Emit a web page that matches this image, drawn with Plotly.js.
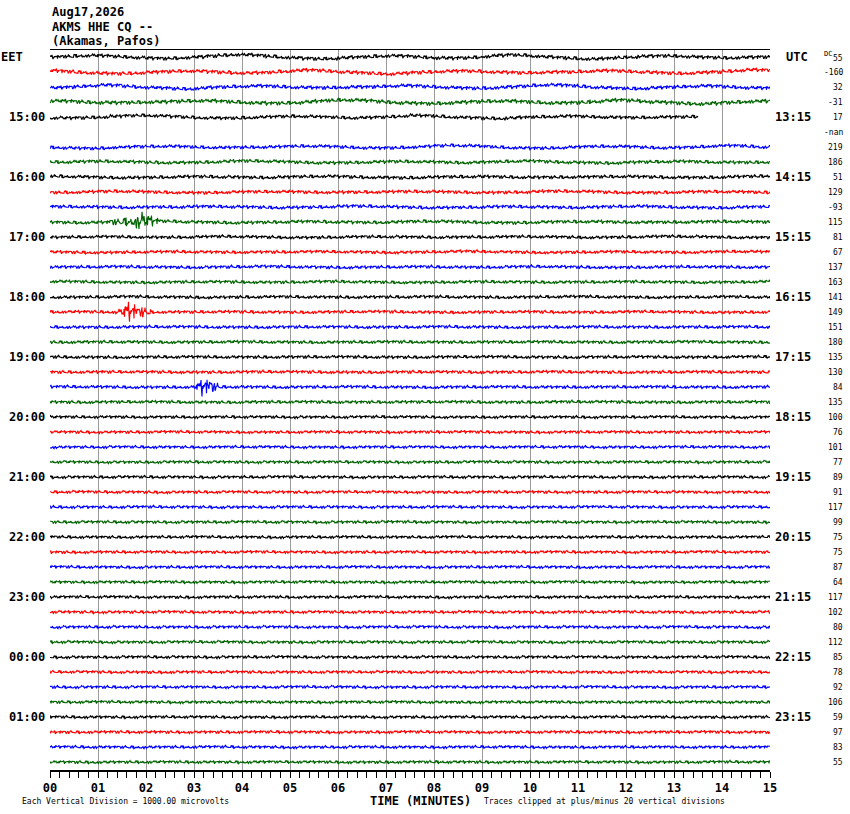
<!DOCTYPE html>
<html><head><meta charset="utf-8">
<script src="https://cdn.plot.ly/plotly-3.0.1.min.js"></script>
<style>body{margin:0;background:#fff}#chart{width:850px;height:814px}</style>
</head><body><div id="chart"></div>
<script>
// ---- data ----
const TITLE_LINES = ["Aug17,2026", "AKMS HHE CQ --", "(Akamas, Pafos)"];
const LEFT_HOURS = ["15:00","16:00","17:00","18:00","19:00","20:00","21:00","22:00","23:00","00:00","01:00"];
const RIGHT_HOURS = ["13:15","14:15","15:15","16:15","17:15","18:15","19:15","20:15","21:15","22:15","23:15"];
const HOUR_ROWS = [4,8,12,16,20,24,28,32,36,40,44];
const DC_VALUES = ["55","-160","32","-31","17","-nan","219","186","51","129","-93","115",
  "81","67","137","163","141","149","151","180","135","130","84","135",
  "100","76","101","77","89","91","117","99","75","75","87","64",
  "117","102","80","112","85","78","92","106","59","97","83","55"];
const TRACE_COLORS = ["#000000","#ff0000","#0000ff","#006400"];
const TICK_VALUES = [0,1,2,3,4,5,6,7,8,9,10,11,12,13,14,15];
const TICK_LABELS = ["00","01","02","03","04","05","06","07","08","09","10","11","12","13","14","15"];
// minutes each trace runs to (row 5 has no data)
const TRACE_END = {4: 13.5, 5: 0};
// noise amplitude per row (vertical divisions)
const NOISE_AMP = [0.14,0.14,0.14,0.15,0.13,0.13,0.13,0.13,0.13,0.13,0.13,0.13,
  0.12,0.12,0.12,0.12,0.12,0.12,0.12,0.12,0.12,0.12,0.12,0.12,
  0.11,0.11,0.11,0.11,0.11,0.11,0.11,0.11,0.11,0.11,0.11,0.11,
  0.11,0.11,0.11,0.11,0.11,0.11,0.11,0.11,0.11,0.11,0.11,0.11];
const WANDER_AMP = [0.2,0.18,0.18,0.18,0.14,0,0.14,0.1,0.08,0.08,0.08,0.08,
  0.06,0.06,0.05,0.05,0.04,0.04,0.03,0.03,0.03,0.03,0.03,0.03,
  0.02,0.02,0.02,0.02,0.02,0.02,0.02,0.02,0.02,0.02,0.02,0.02,
  0.02,0.02,0.02,0.02,0.02,0.02,0.02,0.02,0.02,0.02,0.02,0.02];
const NOISE = [0.2,-0.4,0.6,-0.1,0.3,-0.8,0.1,0.5,-0.3,0.0,0.4,-0.6,0.9,-0.2,0.1,-0.5,0.3,0.7,-0.9,0.2,
  -0.1,0.4,-0.3,0.6,-0.7,0.0,0.3,-0.2,1.0,-0.4,0.1,-0.6,0.5,-0.1,0.2,-0.3,0.8,-0.5,0.0,0.4,
  -0.2,0.6,-1.0,0.3,-0.1,0.2,-0.4,0.5,-0.6,0.1,0.7,-0.3,0.2,-0.8,0.4,0.0,-0.2,0.6,-0.4,0.9,
  -0.1,0.3,-0.5,0.2,-0.7,0.5,0.1,-0.3,0.4,-0.2,0.0,0.8,-0.6,0.3,-0.1,0.5,-0.4,0.2,-0.9,0.6,
  -0.2,0.1,0.4,-0.5,0.3,-0.3,0.7,-0.1,0.2,-0.6,0.0,0.5,-0.4,0.3,-0.2,0.9,-0.7,0.1,0.4,-0.3];
const WANDER = [0,0.2,0.4,0.5,0.4,0.2,0,-0.2,-0.4,-0.5,-0.4,-0.2,0,0.3,0.6,0.8,0.7,0.5,0.2,-0.1,
  -0.3,-0.5,-0.6,-0.5,-0.3,-0.1,0.1,0.3,0.4,0.3,0.1,-0.1,-0.3,-0.4,-0.3,-0.1,0.2,0.5,0.7,0.6,
  0.3,0,-0.2,-0.4,-0.6,-0.7,-0.5,-0.2,0,0.2,0.3,0.4,0.3,0.1,-0.1,-0.2,-0.3,-0.2,-0.1,0];
// local events: row, start minute, amplitude envelope (divisions, one value per 0.05 min)
const EVENT_ROWS = [11, 17, 22];
const EVENT_START = [1.2, 1.35, 3.0];
const EVENT_ENV = [
  [0.05,0.08,0.1,0.12,0.1,0.15,0.12,0.18,0.2,0.15,0.22,0.3,0.35,0.45,0.5,0.4,0.3,0.25,0.2,0.15,0.1,0.08],
  [0.05,0.1,0.15,0.25,0.35,0.5,0.45,0.35,0.4,0.3,0.25,0.3,0.2,0.15,0.1],
  [0.08,0.15,0.3,0.45,0.4,0.35,0.45,0.3,0.2,0.15,0.1,0.05]
];
const SAMPLES_PER_MIN = 96;
const MINUTES = 15;

// ---- build traces ----
const traces = [];
for (let r = 0; r < 48; r++) {
  const end = (r in TRACE_END) ? TRACE_END[r] : MINUTES;
  const n = Math.round(end * SAMPLES_PER_MIN);
  if (n <= 0) continue;
  const xs = [], ys = [];
  const ev = EVENT_ROWS.indexOf(r);
  for (let i = 0; i <= n; i++) {
    const t = i / SAMPLES_PER_MIN;
    const nz = NOISE[(i * 7 + r * 37) % NOISE.length];
    let v = NOISE_AMP[r] * nz
          + WANDER_AMP[r] * WANDER[(Math.floor(i / 24) + r * 17) % WANDER.length];
    if (ev >= 0) {
      const k = Math.floor((t - EVENT_START[ev]) / 0.05);
      if (k >= 0 && k < EVENT_ENV[ev].length) v += EVENT_ENV[ev][k] * nz * 1.15;
    }
    xs.push(t);
    ys.push(-r + v);
  }
  traces.push({x: xs, y: ys, type: 'scatter', mode: 'lines',
    line: {color: TRACE_COLORS[r % 4], width: 1.1}, hoverinfo: 'skip', showlegend: false});
}

// ---- annotations ----
const mono = "DejaVu Sans Mono";
const ann = [];
TITLE_LINES.forEach((t, k) => ann.push({text: t, xref: 'paper', yref: 'paper', x: 0, y: [1.053, 1.032, 1.0125][k],
  xanchor: 'left', yanchor: 'middle', showarrow: false, font: {family: mono, size: 12, color: '#000', weight: 'bold'}}));
HOUR_ROWS.forEach((row, k) => {
  ann.push({text: LEFT_HOURS[k], xref: 'paper', yref: 'y', x: -0.004, y: -row, xanchor: 'right', yanchor: 'middle',
    showarrow: false, font: {family: mono, size: 12, color: '#000', weight: 'bold'}});
  ann.push({text: RIGHT_HOURS[k], xref: 'paper', yref: 'y', x: 1.004, y: -row, xanchor: 'left', yanchor: 'middle',
    showarrow: false, font: {family: mono, size: 12, color: '#000', weight: 'bold'}});
});
DC_VALUES.forEach((v, r) => ann.push({text: v, xref: 'paper', yref: 'y', x: 1.104, y: -r + (r === 0 ? -0.1 : 0),
  xanchor: 'right', yanchor: 'middle', showarrow: false, font: {family: mono, size: 8, color: '#000'}}));
ann.push({text: 'DC', xref: 'paper', yref: 'y', x: 1.089, y: 0.2, xanchor: 'right', yanchor: 'middle',
  showarrow: false, font: {family: mono, size: 7, color: '#000'}});
ann.push({text: 'EET', xref: 'paper', yref: 'y', x: -0.071, y: 0, xanchor: 'left', yanchor: 'middle',
  showarrow: false, font: {family: mono, size: 12, color: '#000', weight: 'bold'}});
ann.push({text: 'UTC', xref: 'paper', yref: 'y', x: 1.02, y: 0, xanchor: 'left', yanchor: 'middle',
  showarrow: false, font: {family: mono, size: 12, color: '#000', weight: 'bold'}});
ann.push({text: 'TIME (MINUTES)', xref: 'paper', yref: 'paper', x: 0.515, y: -0.0425, xanchor: 'center', yanchor: 'middle',
  showarrow: false, font: {family: mono, size: 12, color: '#000', weight: 'bold'}});
ann.push({text: 'Each Vertical Division = 1000.00 microvolts', xref: 'paper', yref: 'paper', x: -0.042, y: -0.0435,
  xanchor: 'left', yanchor: 'middle', showarrow: false, font: {family: mono, size: 8, color: '#000'}});
ann.push({text: 'Traces clipped at plus/minus 20 vertical divisions', xref: 'paper', yref: 'paper', x: 0.6, y: -0.0435,
  xanchor: 'left', yanchor: 'middle', showarrow: false, font: {family: mono, size: 8, color: '#000'}});

const layout = {
  width: 850, height: 814,
  margin: {l: 50, r: 80, t: 50, b: 44, pad: 0},
  paper_bgcolor: '#fff', plot_bgcolor: '#fff',
  showlegend: false,
  xaxis: {range: [0, 15], tickvals: TICK_VALUES, ticktext: TICK_LABELS, ticks: 'outside', ticklen: 6, tickwidth: 1,
    tickcolor: '#000', showgrid: true, gridcolor: '#9a9a9a', gridwidth: 1, zeroline: false,
    showline: true, linecolor: '#000', linewidth: 1.5, mirror: true,
    minor: {dtick: 0.2, ticks: 'outside', ticklen: 6, tickcolor: '#000', showgrid: false},
    tickfont: {family: mono, size: 12, color: '#000', weight: 'bold'}, fixedrange: true},
  yaxis: {range: [-47.53, 0.467], showticklabels: false, ticks: '', showgrid: false, zeroline: false,
    showline: false, fixedrange: true},
  annotations: ann
};
Plotly.newPlot('chart', traces, layout, {staticPlot: true});
</script>
</body></html>
